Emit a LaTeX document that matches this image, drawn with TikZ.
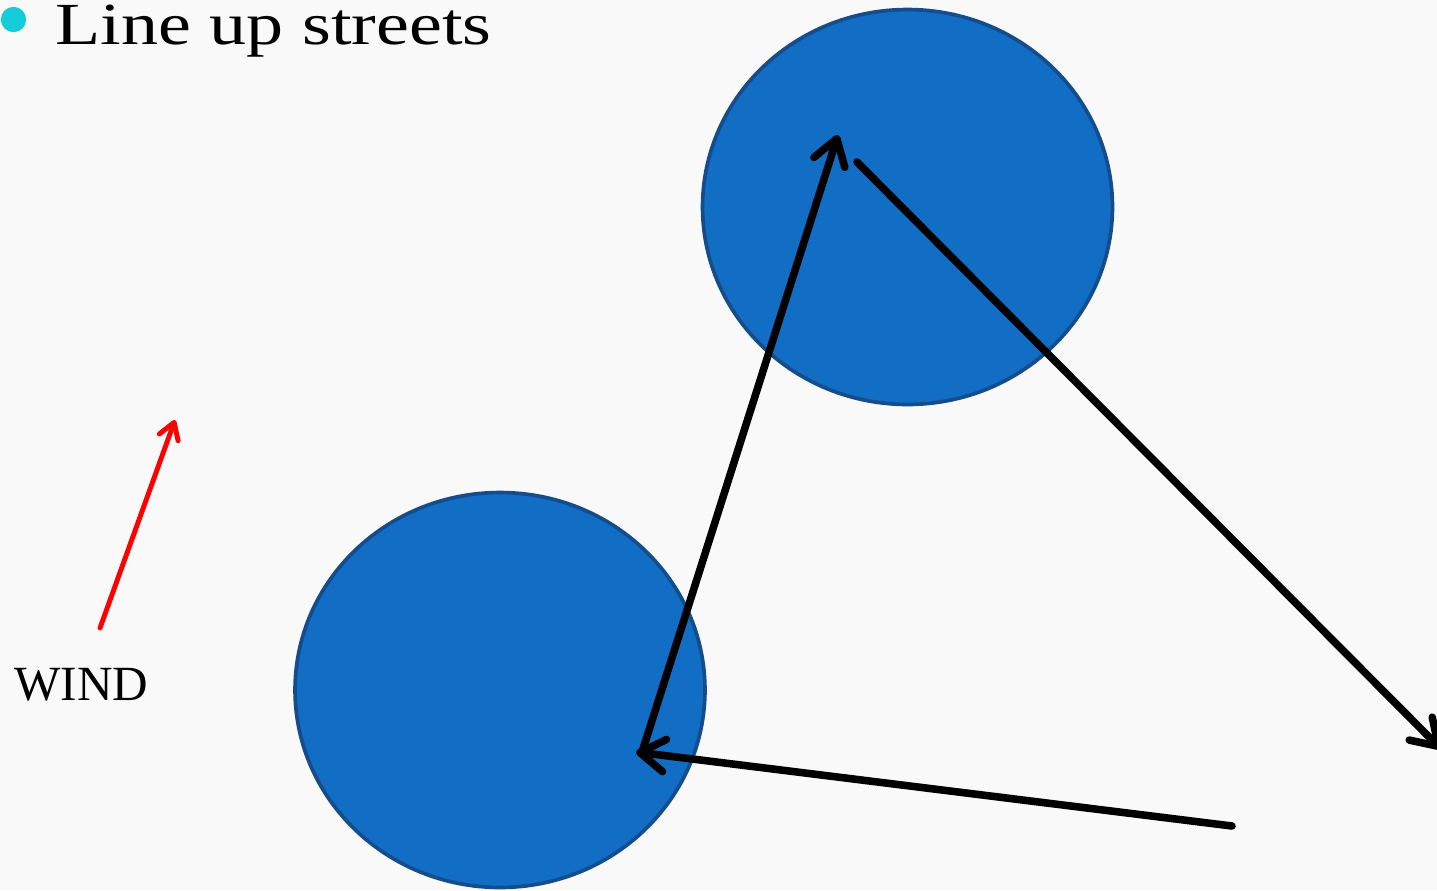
\documentclass[tikz,border=0pt]{standalone}
\usepackage{fontspec}
\setmainfont{Liberation Serif}
\usetikzlibrary{arrows.meta,shapes.geometric}
\definecolor{slidebg}{RGB}{249,249,249}
\definecolor{bulletcyan}{RGB}{22,204,218}
\definecolor{blobfill}{RGB}{17,110,196}
\definecolor{blobedge}{RGB}{20,76,140}
\begin{document}
\begin{tikzpicture}[x=0.02cm, y=-0.02cm,
  blob/.style={ellipse, draw=blobedge, fill=blobfill, line width=2.1pt, inner sep=0pt,
    minimum width=8.2cm, minimum height=7.9cm},
  route/.style={line width=4.3pt, line cap=round, -{Straight Barb[length=5mm,width=6.5mm,round]}},
  windarrow/.style={red, line width=2.8pt, line cap=round, -{Straight Barb[length=3.2mm,width=4mm,round]}}]
\fill[slidebg] (0,0) rectangle (1437,890);
\useasboundingbox (0,0) rectangle (1437,890);
\clip (0,0) rectangle (1437,890);
% heading
\fill[bulletcyan] (13.5,19.5) circle (12.7);
\node[anchor=base west, inner sep=0pt] (title) at (55,44) {\scalebox{1.24}[1]{\fontsize{34}{40}\selectfont Line up streets}};
% the two blobs
\node[blob] (upper) at (907.5,207) {};
\node[blob] (lower) at (500,690) {};
% streets
\coordinate (s1) at (1232,826);
\coordinate (s2) at (636,752);
\coordinate (s3) at (643,749);
\coordinate (s4) at (838,135);
\coordinate (s5) at (857,162);
\coordinate (s6) at (1441,749);
\draw[route] (s1) -- (s2);
\draw[route] (s3) -- (s4);
\draw[route] (s5) -- (s6);
% wind
\coordinate (w1) at (100,628);
\coordinate (w2) at (175,420);
\draw[windarrow] (w1) -- (w2);
\node[anchor=base west, inner sep=0pt] (wind) at (14,700) {\fontsize{28}{32}\selectfont WIND};
\end{tikzpicture}
\end{document}
